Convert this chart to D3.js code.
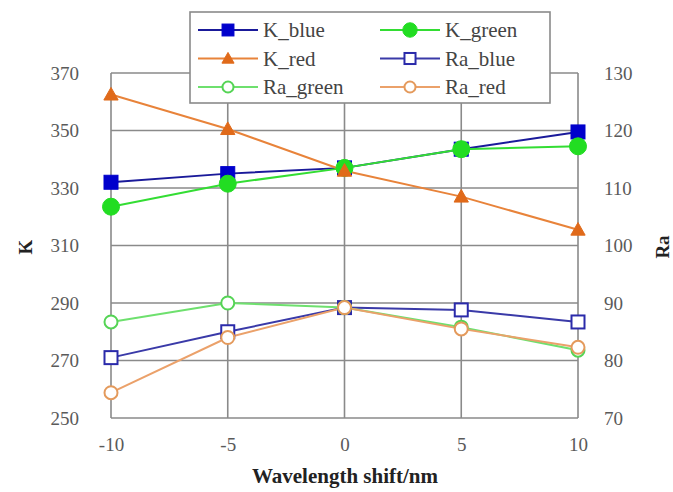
<!DOCTYPE html>
<html><head><meta charset="utf-8">
<script src="https://cdn.jsdelivr.net/npm/d3@7"></script>
<style>body{margin:0;background:#fff}svg{display:block}</style>
</head><body><svg id="c" width="673" height="492"></svg>
<script>
const xValues = [-10, -5, 0, 5, 10];
const xTicks = [-10, -5, 0, 5, 10];
const kTicks = [250, 270, 290, 310, 330, 350, 370];
const raTicks = [70, 80, 90, 100, 110, 120, 130];
const K_blue = [332, 335, 337, 343.5, 349.5];
const K_green = [323.5, 331.5, 337, 343.5, 344.5];
const K_red = [362.5, 350.5, 336, 327, 315.5];
const Ra_blue = [80.5, 85, 89.2, 88.8, 86.7];
const Ra_green = [86.7, 90, 89.2, 85.8, 81.8];
const Ra_red = [74.4, 84, 89.2, 85.5, 82.3];

const FONT = "'Liberation Serif', 'Times New Roman', Times, serif";
const series = [
  {name:"K_blue", vals:K_blue, axis:"K", line:"#1a1a9a", fill:"#0000cc", stroke:"#0000cc", shape:"square"},
  {name:"K_green", vals:K_green, axis:"K", line:"#33dd33", fill:"#22dd22", stroke:"#22dd22", shape:"circle"},
  {name:"K_red", vals:K_red, axis:"K", line:"#e8833a", fill:"#e06a1a", stroke:"#e06a1a", shape:"triangle"},
  {name:"Ra_blue", vals:Ra_blue, axis:"Ra", line:"#3a3aa8", fill:"#fff", stroke:"#2a2aaa", shape:"square"},
  {name:"Ra_green", vals:Ra_green, axis:"Ra", line:"#6ee06e", fill:"#fff", stroke:"#55d455", shape:"circle"},
  {name:"Ra_red", vals:Ra_red, axis:"Ra", line:"#eba16a", fill:"#fff", stroke:"#e49a5c", shape:"circle"}
];

const svg = d3.select("#c");
const L=111, R=578, T=73, B=418;
const x = d3.scaleLinear().domain([-10,10]).range([L,R]);
const yK = d3.scaleLinear().domain([250,370]).range([B,T]);
const yR = d3.scaleLinear().domain([70,130]).range([B,T]);
const grid="#8a8a8a";

svg.append("g").selectAll("line").data(kTicks).join("line")
  .attr("x1",L).attr("x2",R).attr("y1",d=>yK(d)).attr("y2",d=>yK(d))
  .attr("stroke",grid).attr("stroke-width",1.6);
svg.append("g").selectAll("line").data(xTicks).join("line")
  .attr("x1",d=>x(d)).attr("x2",d=>x(d)).attr("y1",T).attr("y2",B)
  .attr("stroke",grid).attr("stroke-width",1.6);

const fs = 19;
const fmt = d=>String(d);
const ax = svg.append("g").attr("transform",`translate(0,${B})`)
  .call(d3.axisBottom(x).tickValues(xTicks).tickFormat(fmt).tickSize(0).tickPadding(20));
const ayL = svg.append("g").attr("transform",`translate(${L},0)`)
  .call(d3.axisLeft(yK).tickValues(kTicks).tickFormat(fmt).tickSize(0).tickPadding(32));
const ayR = svg.append("g").attr("transform",`translate(${R},0)`)
  .call(d3.axisRight(yR).tickValues(raTicks).tickFormat(fmt).tickSize(0).tickPadding(26));
[ax,ayL,ayR].forEach(g=>{g.select(".domain").remove();
  g.attr("font-family",FONT);
  g.selectAll("text").style("font-family",FONT).attr("font-size",fs).attr("fill","#5a5a5a");});

svg.append("text").attr("transform","translate(32,247) rotate(-90)").attr("text-anchor","middle")
  .style("font-family",FONT).attr("font-weight","bold").attr("font-size",19).attr("fill","#222").text("K");
svg.append("text").attr("transform","translate(669,247) rotate(-90)").attr("text-anchor","middle")
  .style("font-family",FONT).attr("font-weight","bold").attr("font-size",19).attr("fill","#222").text("Ra");
svg.append("text").attr("x",345).attr("y",483).attr("text-anchor","middle")
  .style("font-family",FONT).attr("font-weight","bold").attr("font-size",21).attr("fill","#222").text("Wavelength shift/nm");

function marker(g, shape, cx, cy, s){
  if(shape==="square") return g.append("rect").attr("x",cx-s.sz/2).attr("y",cy-s.sz/2).attr("width",s.sz).attr("height",s.sz);
  if(shape==="circle") return g.append("circle").attr("cx",cx).attr("cy",cy).attr("r",s.sz/2);
  const h=s.sz;
  return g.append("path").attr("d",`M${cx},${cy-h*0.55}L${cx+h*0.55},${cy+h*0.42}L${cx-h*0.55},${cy+h*0.42}Z`);
}
const sizes={K_blue:14,K_green:17,K_red:13,Ra_blue:13,Ra_green:13,Ra_red:13};

const plotG = svg.append("g");
series.forEach(s=>{
  const y = s.axis==="K"?yK:yR;
  const line = d3.line().x((d,i)=>x(xValues[i])).y(d=>y(d));
  plotG.append("path").datum(s.vals).attr("d",line).attr("fill","none").attr("stroke",s.line).attr("stroke-width",2);
});
series.forEach(s=>{
  const y = s.axis==="K"?yK:yR;
  s.vals.forEach((v,i)=>{
    const m = marker(plotG, s.shape, x(xValues[i]), y(v), {sz:sizes[s.name]});
    m.attr("fill",s.fill).attr("stroke",s.stroke).attr("stroke-width",s.fill==="#fff"?2:1);
  });
});

const lg = svg.append("g");
lg.append("rect").attr("x",190).attr("y",12).attr("width",360).attr("height",91)
  .attr("fill","#fff").attr("stroke","#8a8a8a").attr("stroke-width",1.6);
series.forEach((s,i)=>{
  const col=i%2, row=Math.floor(i/2);
  const lx = col===0?198:380, ly = 30+row*28.5;
  lg.append("line").attr("x1",lx).attr("x2",lx+60).attr("y1",ly).attr("y2",ly).attr("stroke",s.line).attr("stroke-width",2);
  const m = marker(lg, s.shape, lx+30, ly, {sz:sizes[s.name]*0.85});
  m.attr("fill",s.fill).attr("stroke",s.stroke).attr("stroke-width",s.fill==="#fff"?2:1);
  lg.append("text").attr("x",lx+65).attr("y",ly+7).style("font-family",FONT).attr("font-size",21).attr("fill","#444").text(s.name);
});
</script></body></html>
